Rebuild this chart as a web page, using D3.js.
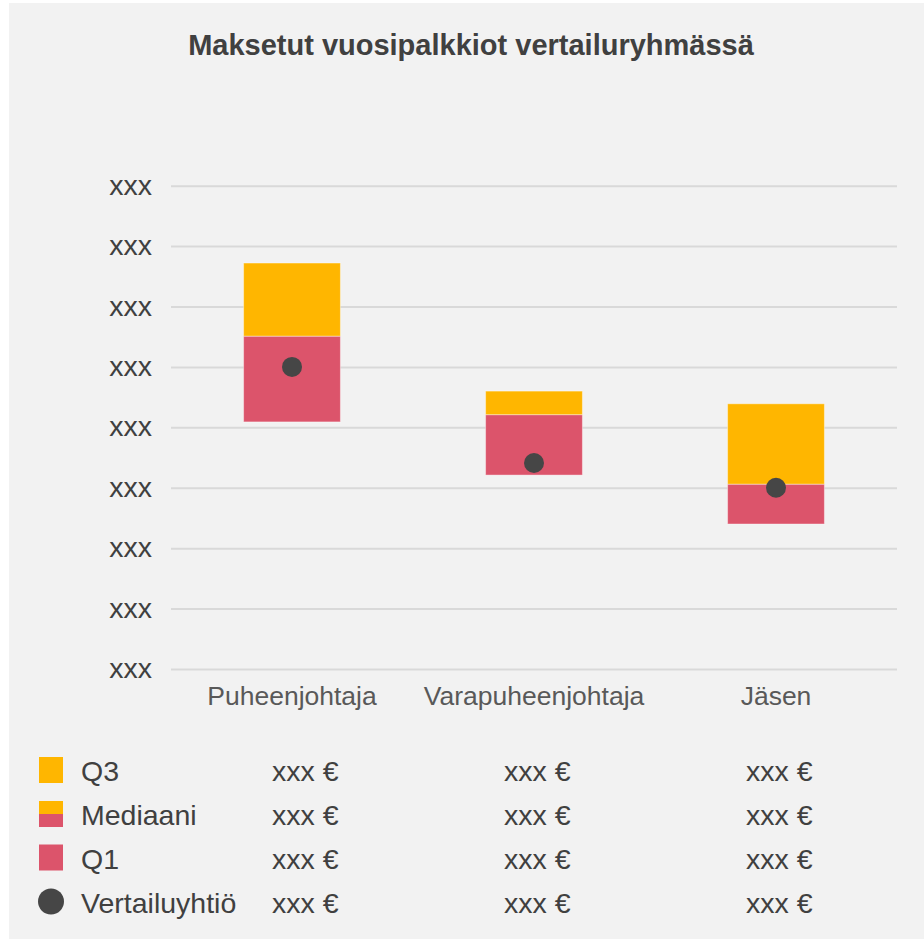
<!DOCTYPE html>
<html>
<head>
<meta charset="utf-8">
<script src="https://cdn.jsdelivr.net/npm/d3@7"></script>
<style>
  body { margin: 0; background: #fff; }
  text { font-family: "Liberation Sans", Arial, sans-serif; }
</style>
</head>
<body>
<div id="chart"></div>
<script>
// Data
const categories = ["Puheenjohtaja", "Varapuheenjohtaja", "Jäsen"];
const q1 = [4.09, 3.21, 2.40];
const median = [5.51, 4.21, 3.06];
const q3 = [6.72, 4.60, 4.39];
const company = [5.0, 3.41, 3.0];
const yTicks = [0, 1, 2, 3, 4, 5, 6, 7, 8];
const yTickLabels = ["xxx", "xxx", "xxx", "xxx", "xxx", "xxx", "xxx", "xxx", "xxx"];
const legendLabels = ["Q3", "Mediaani", "Q1", "Vertailuyhtiö"];
const legendValues = [
  ["xxx €", "xxx €", "xxx €"],
  ["xxx €", "xxx €", "xxx €"],
  ["xxx €", "xxx €", "xxx €"],
  ["xxx €", "xxx €", "xxx €"]
];

const colQ3 = "#ffb600";
const colQ1 = "#dc546b";
const colDot = "#464646";
const textCol = "#404040";

// Set up the SVG
const width = 924;
const height = 939;

const svg = d3.select("#chart")
    .append("svg")
    .attr("width", width)
    .attr("height", height);

// grey panel
svg.append("rect")
    .attr("x", 9).attr("y", 3)
    .attr("width", width - 9).attr("height", height - 3)
    .attr("fill", "#f2f2f2");

// Title
svg.append("text")
    .attr("x", 471).attr("y", 55)
    .attr("text-anchor", "middle")
    .attr("font-size", 29)
    .attr("font-weight", "bold")
    .attr("fill", textCol)
    .text("Maksetut vuosipalkkiot vertailuryhmässä");

// Scales
const x = d3.scaleBand()
    .domain(categories)
    .range([171, 897])
    .paddingInner(0.6)
    .paddingOuter(0.3);

const y = d3.scaleLinear()
    .domain([0, 8])
    .range([669, 185.7]);

// Gridlines + y labels
const yAxis = svg.append("g")
    .attr("transform", "translate(171,0)")
    .call(d3.axisLeft(y)
        .tickValues(yTicks)
        .tickSize(-(897 - 171))
        .tickPadding(19)
        .tickFormat((d, i) => yTickLabels[i]));
yAxis.select(".domain").remove();
yAxis.selectAll(".tick line")
    .attr("stroke", "#d9d9d9")
    .attr("stroke-width", 2);
yAxis.selectAll(".tick text")
    .attr("font-size", 28.5)
    .attr("font-family", "Liberation Sans, Arial, sans-serif")
    .attr("fill", textCol)
    .attr("dy", "0.3em");

// x category labels
const xAxis = svg.append("g")
    .attr("transform", "translate(0,669)")
    .call(d3.axisBottom(x).tickSize(0).tickPadding(17));
xAxis.select(".domain").remove();
xAxis.selectAll(".tick text")
    .attr("font-size", 26.5)
    .attr("font-family", "Liberation Sans, Arial, sans-serif")
    .attr("fill", "#595959")
    .attr("dy", "0.71em");

// Bars: Q1 -> median (red), median -> Q3 (yellow)
const bars = svg.append("g");
bars.selectAll("rect.q1")
    .data(categories)
    .join("rect")
    .attr("class", "q1")
    .attr("x", d => x(d))
    .attr("y", (d, i) => y(median[i]))
    .attr("width", x.bandwidth())
    .attr("height", (d, i) => y(q1[i]) - y(median[i]))
    .attr("fill", colQ1)
    .attr("stroke", "#fff")
    .attr("stroke-opacity", 0.4)
    .attr("stroke-width", 1);

bars.selectAll("rect.q3")
    .data(categories)
    .join("rect")
    .attr("class", "q3")
    .attr("x", d => x(d))
    .attr("y", (d, i) => y(q3[i]))
    .attr("width", x.bandwidth())
    .attr("height", (d, i) => y(median[i]) - y(q3[i]))
    .attr("fill", colQ3)
    .attr("stroke", "#fff")
    .attr("stroke-opacity", 0.4)
    .attr("stroke-width", 1);

// company dots
svg.append("g").selectAll("circle")
    .data(categories)
    .join("circle")
    .attr("cx", d => x(d) + x.bandwidth() / 2)
    .attr("cy", (d, i) => y(company[i]))
    .attr("r", 10)
    .attr("fill", colDot);

// Legend table
const rowY = [770, 814, 857.5, 901.5];
const legend = svg.append("g");
legendLabels.forEach((lab, r) => {
    const cy = rowY[r];
    if (r === 0) {
        legend.append("rect").attr("x", 39).attr("y", cy - 13).attr("width", 24).attr("height", 26).attr("fill", colQ3);
    } else if (r === 1) {
        legend.append("rect").attr("x", 39).attr("y", cy - 13).attr("width", 24).attr("height", 13).attr("fill", colQ3);
        legend.append("rect").attr("x", 39).attr("y", cy).attr("width", 24).attr("height", 13).attr("fill", colQ1);
    } else if (r === 2) {
        legend.append("rect").attr("x", 39).attr("y", cy - 13).attr("width", 24).attr("height", 26).attr("fill", colQ1);
    } else {
        legend.append("circle").attr("cx", 51).attr("cy", cy).attr("r", 13).attr("fill", colDot);
    }
    legend.append("text")
        .attr("x", 81).attr("y", cy + 11)
        .attr("font-size", 28.5)
        .attr("fill", textCol)
        .text(lab);
    categories.forEach((c, i) => {
        const cx = x(c) + x.bandwidth() / 2;
        legend.append("text")
            .attr("x", i === 0 ? cx - 20 : cx - 30)
            .attr("y", cy + 11)
            .attr("font-size", 28.5)
            .attr("fill", textCol)
            .text(legendValues[r][i]);
    });
});
</script>
</body>
</html>
